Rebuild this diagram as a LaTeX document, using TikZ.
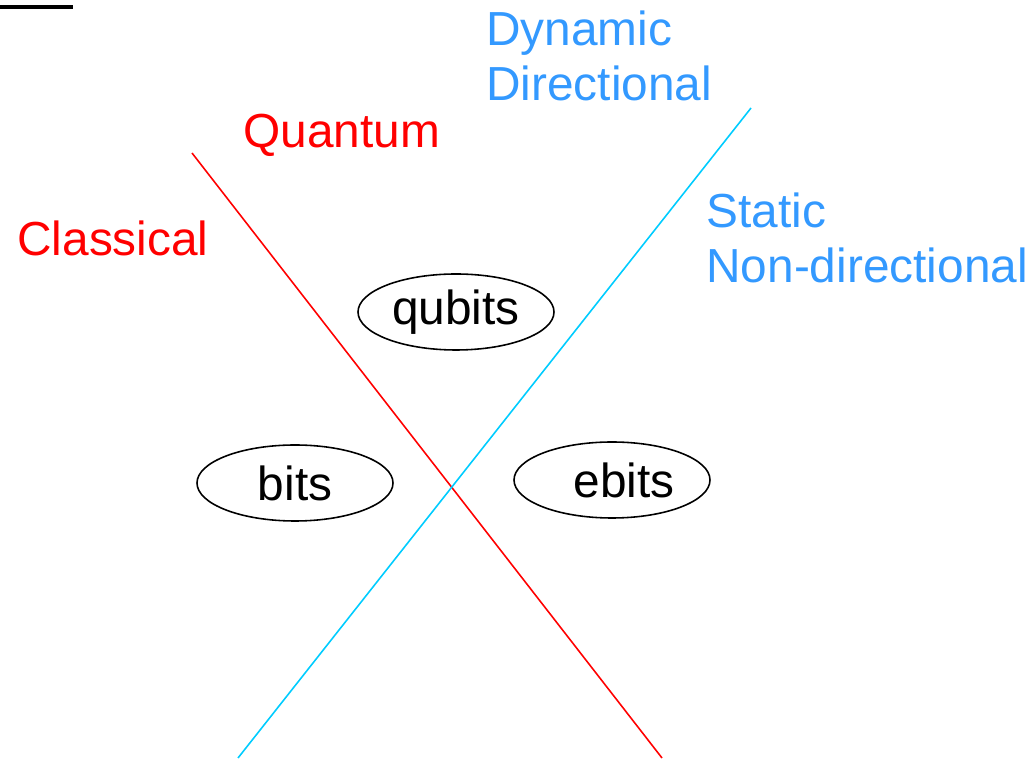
\documentclass[tikz,border=0pt]{standalone}
\usepackage{fontspec}
\setmainfont{Liberation Sans}
\usetikzlibrary{shapes.geometric}
\definecolor{axisred}{RGB}{255,0,0}
\definecolor{labelblue}{RGB}{51,153,255}
\definecolor{axiscyan}{RGB}{0,204,255}

\begin{document}
\begin{tikzpicture}[
    lbl/.style={inner sep=0pt, anchor=base west, font=\fontsize{27.2}{31.3}\selectfont},
    redlbl/.style={lbl, text=axisred},
    bluelbl/.style={lbl, text=labelblue, align=left},
    unit/.style={draw, ellipse, line width=0.9pt, minimum width=3.92cm, minimum height=1.52cm, inner sep=0pt, font=\fontsize{27.2}{31.3}\selectfont}
]
\useasboundingbox (0,0) rectangle (20.68,15.16);

% top-left rule
\coordinate (ruleL) at (0,15.02);
\coordinate (ruleR) at (1.46,15.02);
\draw[line width=2pt] (ruleL) -- (ruleR);

% classical / quantum axis
\coordinate (redtop) at (3.84,12.10);
\coordinate (redbot) at (13.24,0);
\draw[axisred, line width=0.9pt] (redtop) -- (redbot);

% static / dynamic axis
\coordinate (cyantop) at (15.02,13.00);
\coordinate (cyanbot) at (4.76,0);
\draw[axiscyan, line width=0.9pt] (cyantop) -- (cyanbot);

% axis labels
\node[redlbl] (quantum) at (4.86,12.20) {Quantum};
\node[redlbl] (classical) at (0.34,10.04) {Classical};
\node[bluelbl] (dynamic) at (9.72,13.14) {Dynamic\\Directional};
\node[bluelbl] (static) at (14.12,9.50) {Static\\Non-directional};

% resources
\node[unit] (qubits) at (9.12,8.92) {\raisebox{-0.08cm}{qubits}};
\node[unit] (bits) at (5.90,5.50) {bits};
\node[unit] (ebits) at (12.24,5.56) {\hspace*{0.48cm}ebits};

\end{tikzpicture}
\end{document}
